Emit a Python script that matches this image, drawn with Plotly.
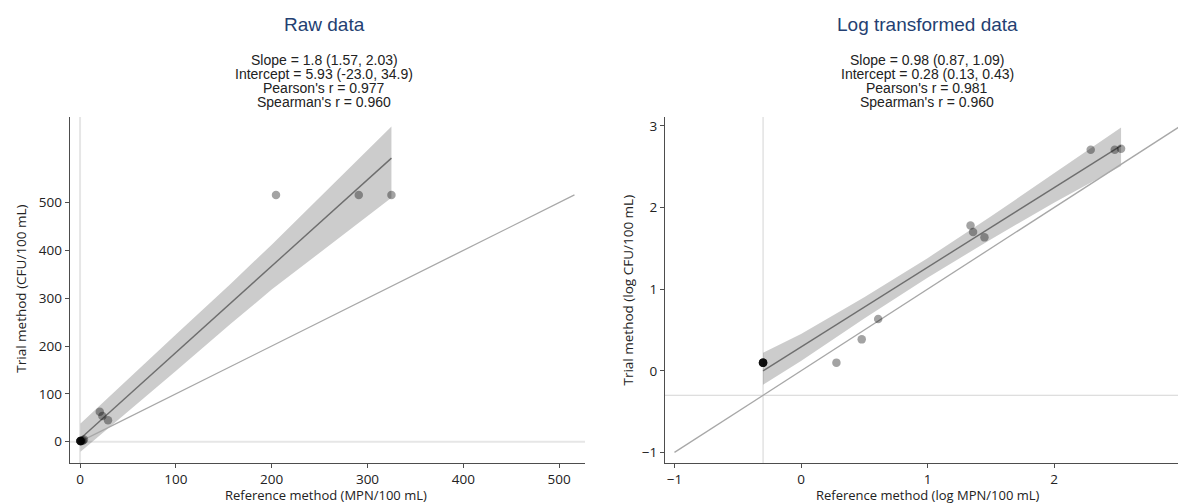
import plotly.graph_objects as go

W, H = 1178, 503

# ---------------- data ----------------
# Raw data panel
raw_ref = [0.5, 0.5, 0.5, 0.5, 0.5, 0.5, 1.9, 3.0, 4.1, 20.6, 23.3, 29.2, 204.5, 290.9, 325.0]
raw_trial = [1.25, 1.25, 1.25, 1.25, 1.25, 1.25, 1.25, 2.4, 4.3, 62.8, 53.8, 45.0, 516.0, 516.0, 516.0]
raw_fit_x = [0.5, 325.0]
raw_fit_y = [6.8, 593.0]
raw_band_x = [0.5, 100.0, 157.0, 200.0, 325.0]
raw_band_upper = [38.0, 224.0, 330.0, 412.0, 659.0]
raw_band_lower = [-21.0, 148.0, 246.0, 318.0, 510.0]
raw_identity = [0.0, 516.0]
raw_refline = 0.0
raw_ticks = [0, 100, 200, 300, 400, 500]

# Log transformed panel
log_ref = [-0.30, -0.30, -0.30, -0.30, -0.30, -0.30, 0.28, 0.48, 0.61, 1.34, 1.36, 1.45, 2.29, 2.48, 2.53]
log_trial = [0.10, 0.10, 0.10, 0.10, 0.10, 0.10, 0.10, 0.385, 0.635, 1.78, 1.70, 1.635, 2.71, 2.71, 2.72]
log_fit_x = [-0.30, 2.53]
log_fit_y = [0.0, 2.76]
log_band_x = [-0.30, 0.0, 0.5, 1.0, 1.5, 2.0, 2.53]
log_band_upper = [0.22, 0.45, 0.90, 1.38, 1.89, 2.42, 2.98]
log_band_lower = [-0.17, 0.12, 0.64, 1.14, 1.61, 2.06, 2.51]
log_identity = [-1.0, 3.0]
log_refline = -0.30
log_ticks = [-1, 0, 1, 2, 3]

titles = ["Raw data", "Log transformed data"]
stats_raw = ["Slope = 1.8 (1.57, 2.03)", "Intercept = 5.93 (-23.0, 34.9)",
             "Pearson's r = 0.977", "Spearman's r = 0.960"]
stats_log = ["Slope = 0.98 (0.87, 1.09)", "Intercept = 0.28 (0.13, 0.43)",
             "Pearson's r = 0.981", "Spearman's r = 0.960"]
xtitles = ["Reference method (MPN/100 mL)", "Reference method (log MPN/100 mL)"]
ytitles = ["Trial method (CFU/100 mL)", "Trial method (log CFU/100 mL)"]

# ---------------- styling ----------------
BAND = "rgba(0,0,0,0.20)"
IDENT = "#a8a8a8"
FIT = "#6e6e6e"
PT = "rgba(0,0,0,0.36)"
AXC = "#4d4d4d"
TXT = "#222222"
TITLEC = "#243f72"
TICKFONT = dict(family="Open Sans", size=13.5, color=TXT)

fig = go.Figure()


def add_panel(xa, ya, bx, bu, bl, ident, fx, fy, px, py):
    fig.add_trace(go.Scatter(x=list(bx) + list(bx)[::-1], y=list(bu) + list(bl)[::-1],
                             fill="toself", fillcolor=BAND, mode="none",
                             xaxis=xa, yaxis=ya, hoverinfo="skip"))
    fig.add_trace(go.Scatter(x=ident, y=ident, mode="lines",
                             line=dict(color=IDENT, width=1.3), xaxis=xa, yaxis=ya))
    fig.add_trace(go.Scatter(x=fx, y=fy, mode="lines",
                             line=dict(color=FIT, width=1.4), xaxis=xa, yaxis=ya))
    fig.add_trace(go.Scatter(x=px, y=py, mode="markers",
                             marker=dict(color=PT, size=8.5, line=dict(width=0)),
                             xaxis=xa, yaxis=ya))


add_panel("x", "y", raw_band_x, raw_band_upper, raw_band_lower, raw_identity,
          raw_fit_x, raw_fit_y, raw_ref, raw_trial)
add_panel("x2", "y2", log_band_x, log_band_upper, log_band_lower, log_identity,
          log_fit_x, log_fit_y, log_ref, log_trial)

# reference lines
fig.add_shape(type="line", xref="x", yref="y domain", x0=raw_refline, x1=raw_refline,
              y0=0, y1=1, line=dict(color="#e6e6e6", width=2), layer="below")
fig.add_shape(type="line", xref="x domain", yref="y", x0=0, x1=1, y0=raw_refline,
              y1=raw_refline, line=dict(color="#e6e6e6", width=2), layer="below")
fig.add_shape(type="line", xref="x2", yref="y2 domain", x0=log_refline, x1=log_refline,
              y0=0, y1=1, line=dict(color="#d4d4d4", width=1), layer="below")
fig.add_shape(type="line", xref="x2 domain", yref="y2", x0=0, x1=1, y0=log_refline,
              y1=log_refline, line=dict(color="#d4d4d4", width=1), layer="below")

ydom = [40 / H, 386 / H]
axis_common = dict(showline=True, linecolor=AXC, linewidth=1, ticks="outside",
                   ticklen=4, tickwidth=1, tickcolor=AXC, showgrid=False,
                   zeroline=False, tickfont=TICKFONT, fixedrange=True)

fig.update_layout(
    width=W, height=H, showlegend=False,
    margin=dict(l=0, r=0, t=0, b=0),
    paper_bgcolor="white", plot_bgcolor="white",
    xaxis=dict(domain=[69.6 / W, 585 / W], range=[-10.9, 527], tickvals=raw_ticks,
               anchor="y", **axis_common),
    yaxis=dict(domain=ydom, range=[-44.6, 679], tickvals=raw_ticks, anchor="x",
               **axis_common),
    xaxis2=dict(domain=[665 / W, 1.0], range=[-1.075, 2.98], tickvals=log_ticks,
                anchor="y2", **axis_common),
    yaxis2=dict(domain=ydom, range=[-1.13, 3.11], tickvals=log_ticks, anchor="x2",
                **axis_common),
)

ann = []
centers = [324, 927]
for i, (title, stats) in enumerate([(titles[0], stats_raw), (titles[1], stats_log)]):
    cx = centers[i] / W
    ann.append(dict(text=title, x=cx, y=1 - 25 / H, xref="paper", yref="paper",
                    showarrow=False, xanchor="center", yanchor="middle",
                    font=dict(family="Liberation Sans", size=19, color=TITLEC)))
    for j, s in enumerate(stats):
        ann.append(dict(text=s, x=cx, y=1 - (60 + 14 * j) / H, xref="paper", yref="paper",
                        showarrow=False, xanchor="center", yanchor="middle",
                        font=dict(family="Liberation Sans", size=14, color=TXT)))

XT_Y = 1 - 494.5 / H
XT_FONT = dict(family="Open Sans", size=13, color=TXT)
ann.append(dict(text=xtitles[0], x=326 / W, y=XT_Y, xref="paper", yref="paper",
                showarrow=False, xanchor="center", yanchor="middle", font=XT_FONT))
ann.append(dict(text=xtitles[1], x=928 / W, y=XT_Y, xref="paper", yref="paper",
                showarrow=False, xanchor="center", yanchor="middle", font=XT_FONT))
ann.append(dict(text=ytitles[0], x=20.7 / W, y=1 - 289 / H, xref="paper", yref="paper",
                showarrow=False, xanchor="center", yanchor="middle", textangle=-90,
                font=dict(family="Open Sans", size=13.5, color=TXT)))
ann.append(dict(text=ytitles[1], x=627.5 / W, y=1 - 290 / H, xref="paper", yref="paper",
                showarrow=False, xanchor="center", yanchor="middle", textangle=-90,
                font=dict(family="Open Sans", size=13.5, color=TXT)))

fig.update_layout(annotations=ann)
fig.write_html(
    "out.html",
    config={"displayModeBar": False},
    post_script="document.body.style.margin='0px';document.body.style.overflow='hidden';",
)
